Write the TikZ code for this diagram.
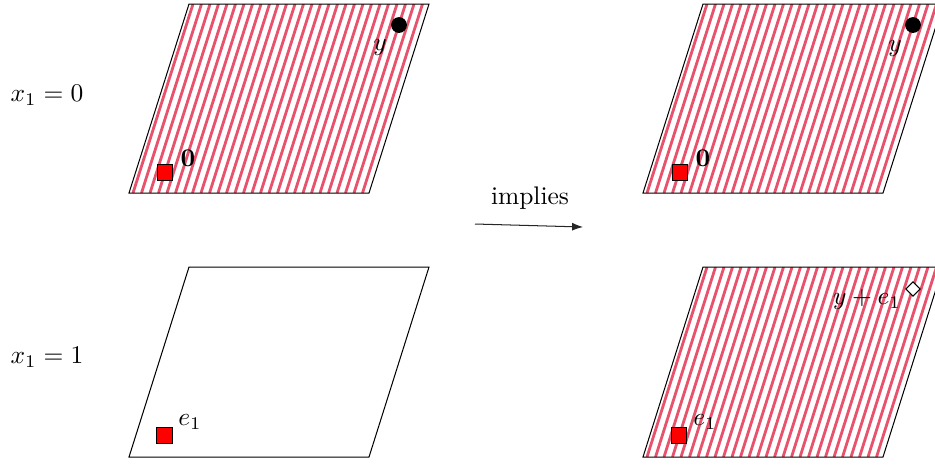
\documentclass[tikz,border=0pt]{standalone}
\usepackage{amsmath}
\usepackage{amssymb}
\usetikzlibrary{shapes.geometric, arrows.meta, positioning}
\definecolor{hatchred}{RGB}{232, 82, 108}

\begin{document}
\begin{tikzpicture}[
    x=0.0138cm, y=-0.0138cm,
    plane/.style={draw=black, line width=0.4pt},
    hatch/.style={draw=hatchred, line width=1.1pt},
    origin/.style={rectangle, draw=black, fill=red, minimum size=6pt, inner sep=0pt},
    point/.style={circle, fill=black, minimum size=6.2pt, inner sep=0pt},
    shifted/.style={diamond, draw=black, fill=white, minimum size=5.8pt, inner sep=0pt},
    arrow/.style={-{Latex[length=1.5mm, width=1.1mm]}, line width=0.4pt, black!85}
]
\clip (0,0) rectangle (935,464);

% Row labels
\node (row0) at (47,95) {$x_1 = 0$};
\node (row1) at (47,357) {$x_1 = 1$};

% Left column, x_1 = 0 (hatched)
\begin{scope}
  \clip (129,193) -- (189,4) -- (429,4) -- (369,193) -- cycle;
  \foreach \x in {133,141.5,...,370}
    \draw[hatch] (\x,193) -- ++(60,-189);
\end{scope}
\draw[plane] (129,193) -- (189,4) -- (429,4) -- (369,193) -- cycle;
\node[origin] (zeroL) at (165,172.5) {};
\node (zeroLlab) at (188,158) {$\mathbf{0}$};
\node[point] (yL) at (399,25) {};
\node (yLlab) at (380,47) {$y$};

% Left column, x_1 = 1 (empty)
\draw[plane] (129,457) -- (189,267) -- (429,267) -- (369,457) -- cycle;
\node[origin] (e1L) at (164.5,435.5) {};
\node (e1Llab) at (190,422) {$e_1$};

% Arrow
\coordinate (arrS) at (475,224);
\coordinate (arrE) at (583,227);
\draw[arrow] (arrS) -- (arrE);
\node (implies) at (530,198) {implies};

% Right column, x_1 = 0 (hatched)
\begin{scope}
  \clip (643,193) -- (703,4) -- (943,4) -- (883,193) -- cycle;
  \foreach \x in {647,655.5,...,884}
    \draw[hatch] (\x,193) -- ++(60,-189);
\end{scope}
\draw[plane] (643,193) -- (703,4) -- (943,4) -- (883,193) -- cycle;
\node[origin] (zeroR) at (680,172.5) {};
\node (zeroRlab) at (703,158) {$\mathbf{0}$};
\node[point] (yR) at (913,25) {};
\node (yRlab) at (895,48) {$y$};

% Right column, x_1 = 1 (hatched)
\begin{scope}
  \clip (643,457) -- (703,267) -- (943,267) -- (883,457) -- cycle;
  \foreach \x in {647,655.5,...,884}
    \draw[hatch] (\x,457) -- ++(60,-190);
\end{scope}
\draw[plane] (643,457) -- (703,267) -- (943,267) -- (883,457) -- cycle;
\node[origin] (e1R) at (679,435.5) {};
\node (e1Rlab) at (705,422) {$e_1$};
\node[shifted] (yeR) at (913,289) {};
\node (yeRlab) at (867,300) {$y + e_1$};

\end{tikzpicture}
\end{document}
